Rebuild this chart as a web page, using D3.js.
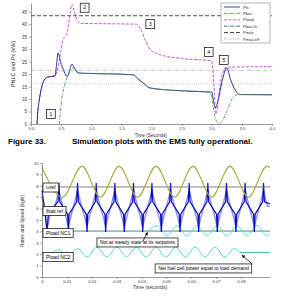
<!DOCTYPE html>
<html>
<head>
<meta charset="utf-8">
<script src="https://cdn.jsdelivr.net/npm/d3@7"></script>
<style>
  body { margin: 0; background: #fff; }
  text { font-family: "Liberation Sans", Arial, sans-serif; }
</style>
</head>
<body>
<svg width="300" height="300"></svg>
<script>
// ---- top plot: power (kW) vs time (s)
const pfc = [[0.1,0],[0.11,4],[0.14,10],[0.18,15],[0.23,18],[0.28,18.8],[0.4,19.2],[0.42,23],[0.45,28.5],[0.49,25],
  [0.55,21],[0.6,19],[0.64,21.5],[0.68,24],[0.72,22.5],[0.78,20.5],[0.9,20.3],[1.3,20.1],[1.7,19.7],[1.78,18],
  [1.86,16.5],[1.97,14.5],[2.3,13.6],[2.8,13],[3.0,12.8],[3.03,9],[3.06,6.5],[3.1,9],[3.17,17],[3.25,22.5],
  [3.31,18],[3.39,13.6],[3.47,11.8],[4,11.7]];
const pbat = [[0.47,0],[0.5,8],[0.55,15],[0.6,18.5],[0.65,21],[0.69,22.5],[0.74,21.5],[0.8,20.4],[0.9,20.3],
  [1.3,20.1],[1.7,19.7],[1.78,18],[1.86,16.5],[1.97,14.5],[2.3,13.6],[2.8,13],[2.98,12.5],[3.03,6],[3.08,1],
  [3.13,0],[3.18,1.5],[3.25,5],[3.3,8],[3.36,11],[3.45,11.8],[4,11.7]];
const pload = [[0.1,0],[0.11,4],[0.14,10],[0.18,15],[0.23,18],[0.28,19],[0.4,19.4],[0.43,21],[0.48,27],[0.53,33.5],
  [0.6,36.5],[0.65,44.5],[0.68,48],[0.72,45],[0.78,41],[0.85,40.3],[1.2,40.2],[1.75,40],[1.82,38],[1.9,33.5],
  [1.98,29.8],[2.14,27.8],[2.52,26.2],[3.0,25.3],[3.03,18],[3.07,4],[3.12,12],[3.17,19.5],[3.22,22.5],[3.3,22.8],[4,23]];
const pmax = 43.4;
const pbatCh = 21.5;
const pmaxEff = 16.1;
const topXTicks = [0, 0.5, 1, 1.5, 2, 2.5, 3, 3.5, 4];
const topYTicks = [0, 5, 10, 15, 20, 25, 30, 35, 40, 45];
const legendLabels = ["Pfc", "Pbat", "Pload", "Pbat,ch", "Pmax", "Pmax,eff"];
const topNotes = [["1",0.33,4.0],["2",0.89,46.6],["3",1.98,40],["4",2.95,28.9],["5",3.2,25.7]];

// ---- bottom plot: rates vs time (ms)
const speedExt = [[0,9.6],[8.2,7.0],[16.1,9.7],[23.5,7.0],[31.0,9.7],[38.4,7.0],[45.9,9.7],[53.3,7.0],
  [60.7,9.7],[68.2,7.0],[75.6,9.7],[83.0,7.0],[90.5,9.7],[91.7,9.6]];
const speedRef = 7.9;
const ibatStart = [[0,7.6],[1.0,6.0],[2.0,4.0],[2.6,5.6]];
const ibatUpT = [6.8,14.3,21.8,29.3,36.8,44.2,51.7,59.2,66.7,74.2,81.7,89.1];
const ibatDownT = [10.6,18.1,25.6,33.1,40.5,48.0,55.5,63.0,70.5,78.0,85.4];
const ibatLevels = {top: 8.25, shoulder: 6.6, valley: 5.5, bottom: 3.95};
const nc1Flat = 4.03;
const nc1Wave = [[42.6,4.03],[46.3,4.5],[50.3,3.6],[54.3,4.5],[58.3,3.6],[62.3,4.5],[66.4,3.6],[70.4,4.5],
  [74.4,3.6],[78.4,4.5],[82.5,3.6],[86.5,4.5],[90.5,3.6],[91.7,3.8]];
const nc2Wave = [[0,2.15],[2.5,1.9],[6.4,2.4],[10.4,1.85],[14.3,2.5],[18.2,1.75],[22.1,2.62],[26.1,1.75],
  [30.1,2.62],[34.0,1.75],[38.0,2.62],[41.9,1.75],[45.9,2.62],[49.8,1.75],[53.7,2.62],[57.7,1.75],
  [61.6,2.62],[65.6,1.75],[69.5,2.62],[73.5,1.75],[77.4,2.5],[79.6,2.15]];
const nc2Flat = [[79.6,2.15],[91.7,2.15]];
const botXTicks = [0,10,20,30,40,50,60,70,80];
const botYTicks = [0,1,2,3,4,5,6,7,8,9,10];
const botNotes = [["\u03c9ref",0.4,7.85],["Ibatt ref",0.4,5.79],["Pload NC1",0.4,3.86],
  ["Not at steady state at its setpoints",22.1,3.03],["Pload NC2",0.4,1.75],
  ["Net fuel cell power equal to load demand",45.5,0.75]];

const svg = d3.select("svg");
svg.append("rect").attr("width",300).attr("height",300).attr("fill","#fff");

// marker for arrows
svg.append("defs").append("marker").attr("id","ah").attr("viewBox","0 0 6 6")
  .attr("refX",5).attr("refY",3).attr("markerWidth",4).attr("markerHeight",4).attr("orient","auto")
  .append("path").attr("d","M0,0L6,3L0,6Z").attr("fill","#000");

function styleAxis(g, fs) {
  g.selectAll("path.domain").attr("stroke","#555").attr("stroke-width",0.6);
  g.selectAll(".tick line").attr("stroke","#555").attr("stroke-width",0.5);
  g.selectAll(".tick text").attr("font-size",fs).attr("fill","#333");
}

function noteBox(g, label, x, y, fs, anchorLeft) {
  const r = g.append("rect");
  const t = g.append("text").attr("font-size",fs).attr("fill","#000").text(label);
  const w = t.node().getComputedTextLength();
  const bx = anchorLeft ? x : x - w/2 - 3;
  r.attr("x",bx).attr("y",y - fs*0.9).attr("width",w + 6)
    .attr("height",fs*1.8).attr("fill","#fff").attr("stroke","#000").attr("stroke-width",0.7);
  t.attr("x",bx + 3).attr("y",y + fs*0.35);
}

// ================= TOP =================
const x1 = d3.scaleLinear().domain([0,4]).range([31,272]);
const y1 = d3.scaleLinear().domain([0,48.5]).range([124,3]);
const gTop = svg.append("g");

const line1 = d3.line().x(d => x1(d[0])).y(d => y1(d[1]));

gTop.append("path").datum([[0,pmax],[4,pmax]]).attr("d",line1).attr("fill","none")
  .attr("stroke","#222").attr("stroke-width",0.8).attr("stroke-dasharray","4,2");
gTop.append("path").datum([[0,pbatCh],[4,pbatCh]]).attr("d",line1).attr("fill","none")
  .attr("stroke","#999").attr("stroke-width",0.6).attr("stroke-dasharray","4,1.5,1,1.5");
gTop.append("path").datum([[0,pmaxEff],[4,pmaxEff]]).attr("d",line1).attr("fill","none")
  .attr("stroke","#999").attr("stroke-width",0.6).attr("stroke-dasharray","1,1.2");

gTop.append("path").datum(pload).attr("d",line1.curve(d3.curveMonotoneX)).attr("fill","none")
  .attr("stroke","#d050d8").attr("stroke-width",1).attr("stroke-dasharray","3,1.5");
gTop.append("path").datum(pfc).attr("d",line1).attr("fill","none")
  .attr("stroke","#3030a0").attr("stroke-width",1);
gTop.append("path").datum(pbat).attr("d",line1).attr("fill","none")
  .attr("stroke","#40a040").attr("stroke-width",0.9).attr("stroke-dasharray","3,1.2,1,1.2");

const gx1 = gTop.append("g").attr("transform","translate(0,124)")
  .call(d3.axisBottom(x1).tickValues(topXTicks).tickSize(2).tickPadding(1).tickSizeOuter(0));
styleAxis(gx1, "4.2px");
const gy1 = gTop.append("g").attr("transform","translate(31,0)")
  .call(d3.axisLeft(y1).tickValues(topYTicks).tickSize(2).tickPadding(2).tickSizeOuter(0));
styleAxis(gy1, "4.5px");

gTop.append("text").attr("x",151).attr("y",136.5).attr("text-anchor","middle")
  .attr("font-size","4.6px").attr("fill","#333").text("Time (Seconds)");
gTop.append("text").attr("transform","translate(15,64) rotate(-90)").attr("text-anchor","middle")
  .attr("font-size","5.5px").attr("fill","#333").text("PNLC and Ps (kW)");

topNotes.forEach(n => noteBox(gTop.append("g"), n[0], x1(n[1]), y1(n[2]), 5, false));

// legend
const leg = gTop.append("g");
leg.append("rect").attr("x",221).attr("y",3).attr("width",49).attr("height",40)
  .attr("fill","#fff").attr("stroke","#888").attr("stroke-width",0.6);
const legStyles = [["#3030a0","none"],["#40a040","3,1.2,1,1.2"],["#d050d8","3,1.5"],
  ["#305060","3,1.2,1,1.2"],["#222","4,2"],["#999","1,1.2"]];
legendLabels.forEach((lab, i) => {
  const yy = 7 + i*6.4;
  leg.append("line").attr("x1",224).attr("x2",240).attr("y1",yy).attr("y2",yy)
    .attr("stroke",legStyles[i][0]).attr("stroke-width",0.9).attr("stroke-dasharray",legStyles[i][1]);
  leg.append("text").attr("x",243).attr("y",yy+1.5).attr("font-size","4.2px").attr("fill","#333").text(lab);
});

// caption
svg.append("text").attr("x",8).attr("y",144).attr("font-family","'Liberation Serif',serif")
  .attr("font-weight","bold").attr("font-size","8px").text("Figure 33.");
svg.append("text").attr("x",72).attr("y",144).attr("font-family","'Liberation Serif',serif")
  .attr("font-weight","bold").attr("font-size","8px").text("Simulation plots with the EMS fully operational.");

// ================= BOTTOM =================
const x2 = d3.scaleLinear().domain([0,91.7]).range([42,270]);
const y2 = d3.scaleLinear().domain([0,10]).range([277,163]);
const gBot = svg.append("g");
const line2 = d3.line().x(d => x2(d[0])).y(d => y2(d[1]));

// battery current built from the read spike times and levels
const L = ibatLevels;
const ibat = ibatStart.slice(), ibatLight = [[0,7.2],[1.2,5.8],[2.2,4.4],[3.2,5.5]];
ibatUpT.forEach((u, i) => {
  ibat.push([u-0.35,L.shoulder],[u,L.top],[u+0.35,L.shoulder]);
  ibatLight.push([u-1.6,6.2],[u,7.6],[u+1.6,6.2]);
  const d = ibatDownT[i];
  if (d !== undefined) {
    ibat.push([d-0.3,L.valley],[d,L.bottom],[d+0.3,L.valley]);
    ibatLight.push([d-1.0,5.3],[d,4.4],[d+1.0,5.3]);
  }
});
ibat.push([91.7,6.4]); ibatLight.push([91.7,6.2]);

gBot.append("path").datum([[0,nc1Flat],[91.7,nc1Flat]]).attr("d",line2).attr("fill","none")
  .attr("stroke","#2f7f80").attr("stroke-width",0.9);
gBot.append("path").datum(nc2Flat).attr("d",line2).attr("fill","none")
  .attr("stroke","#5fb5b5").attr("stroke-width",1.2);
gBot.append("path").datum(nc1Wave).attr("d",line2.curve(d3.curveMonotoneX)).attr("fill","none")
  .attr("stroke","#40d8d8").attr("stroke-width",0.9);
gBot.append("path").datum(nc2Wave).attr("d",line2.curve(d3.curveMonotoneX)).attr("fill","none")
  .attr("stroke","#40d0d0").attr("stroke-width",0.9);
line2.curve(d3.curveLinear);
gBot.append("path").datum(ibatLight).attr("d",line2).attr("fill","none")
  .attr("stroke","#8c8cff").attr("stroke-width",1.4);
gBot.append("path").datum(ibat).attr("d",line2).attr("fill","none")
  .attr("stroke","#0a0ab8").attr("stroke-width",1.2);
gBot.append("path").datum([[0,speedRef],[91.7,speedRef]]).attr("d",line2).attr("fill","none")
  .attr("stroke","#707070").attr("stroke-width",0.9);
gBot.append("path").datum(speedExt).attr("d",line2.curve(d3.curveMonotoneX)).attr("fill","none")
  .attr("stroke","#aaaa40").attr("stroke-width",1.1);

const gx2 = gBot.append("g").attr("transform","translate(0,277)")
  .call(d3.axisBottom(x2).tickValues(botXTicks).tickSize(2).tickPadding(1.5).tickSizeOuter(0)
    .tickFormat(d => d === 0 ? "0" : (d/1000).toFixed(2)));
styleAxis(gx2, "4.2px");
const gy2 = gBot.append("g").attr("transform","translate(42,0)")
  .call(d3.axisLeft(y2).tickValues(botYTicks).tickSize(2).tickPadding(1.5).tickSizeOuter(0));
styleAxis(gy2, "4.2px");

gBot.append("text").attr("x",150).attr("y",288.5).attr("text-anchor","middle")
  .attr("font-size","5px").attr("fill","#333").text("Time (seconds)");
gBot.append("text").attr("transform","translate(24,221) rotate(-90)").attr("text-anchor","middle")
  .attr("font-size","5px").attr("fill","#333").text("Rates and Speed (kg/s)");

botNotes.forEach(n => noteBox(gBot.append("g"), n[0], x2(n[1]), y2(n[2]), 5, true));

// arrows
gBot.append("line").attr("x1",x2(40.5)).attr("y1",y2(3.1)).attr("x2",x2(42.4)).attr("y2",y2(3.9))
  .attr("stroke","#000").attr("stroke-width",0.8).attr("marker-end","url(#ah)");
gBot.append("line").attr("x1",x2(84.5)).attr("y1",y2(1.15)).attr("x2",x2(80.5)).attr("y2",y2(1.9))
  .attr("stroke","#000").attr("stroke-width",0.8).attr("marker-end","url(#ah)");
</script>
</body>
</html>
